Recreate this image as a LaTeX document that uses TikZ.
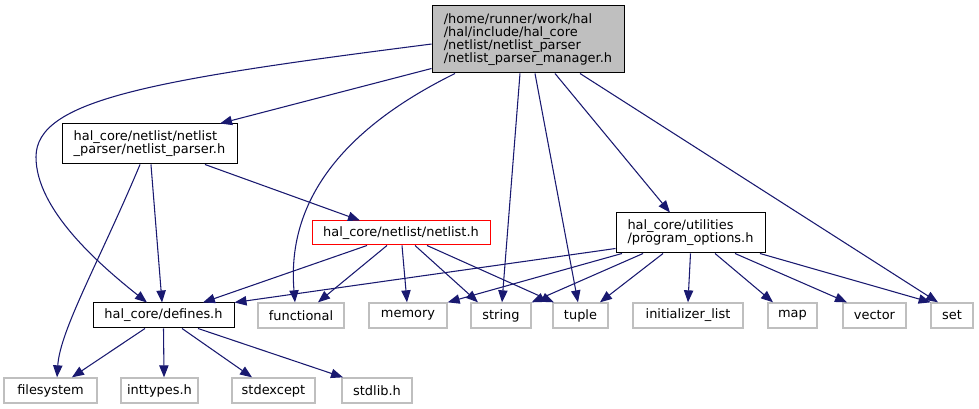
\documentclass[tikz,border=0pt]{standalone}
\usepackage{fontspec}
\setmainfont{DejaVu Sans}
\usetikzlibrary{arrows.meta}
\definecolor{edgeblue}{HTML}{191970}
\definecolor{boxgray}{HTML}{BFBFBF}
\tikzset{
  file/.style={draw=black, line width=0.75pt, inner sep=0pt, align=left,
    font=\fontsize{9.7}{9.75}\selectfont, minimum height=18.75pt},
  sysfile/.style={file, draw=boxgray, line width=1pt},
  incl/.style={draw=edgeblue, line width=0.8pt, -{Triangle[length=9pt,width=7pt]}},
}
\begin{document}
\begin{tikzpicture}[x=0.75pt, y=-0.75pt]
	\useasboundingbox (0,0) rectangle (979,409);
	% header nodes
	\node[file, fill=boxgray, minimum width=144pt, minimum height=50.25pt] (mgr) at (528,39.5) {/home/runner/work/hal\\/hal/include/hal\_core\\/netlist/netlist\_parser\\/netlist\_parser\_manager.h};
	\node[file, minimum width=131.25pt, minimum height=30pt] (parser) at (149.5,144) {hal\_core/netlist/netlist\\\_parser/netlist\_parser.h};
	\node[file, draw=red, minimum width=133.5pt, minimum height=18pt] (netlist) at (401,233) {hal\_core/netlist/netlist.h};
	\node[file, minimum width=111.75pt, minimum height=30pt] (progopt) at (690.5,233) {hal\_core/utilities\\/program\_options.h};
	\node[file, minimum width=105.75pt] (defines) at (163.5,315.5) {hal\_core/defines.h};
	% system headers
	\node[sysfile, minimum width=64.5pt] (functional) at (301,315.5) {functional};
	\node[sysfile, minimum width=58.5pt] (memory) at (408,315.5) {memory};
	\node[sysfile, minimum width=45pt] (string) at (501,315.5) {string};
	\node[sysfile, minimum width=41.25pt] (tuple) at (580.5,315.5) {tuple};
	\node[sysfile, minimum width=82.5pt] (initlist) at (688,315.5) {initializer\_list};
	\node[sysfile, minimum width=36.75pt] (map) at (792.5,315.5) {map};
	\node[sysfile, minimum width=47.25pt] (vector) at (874.5,315.5) {vector};
	\node[sysfile, minimum width=31.5pt] (set) at (952,315.5) {set};
	\node[sysfile, minimum width=69.75pt] (filesystem) at (50.5,390.5) {filesystem};
	\node[sysfile, minimum width=57.75pt] (inttypes) at (159.5,390.5) {inttypes.h};
	\node[sysfile, minimum width=62.25pt] (stdexcept) at (273.5,390.5) {stdexcept};
	\node[sysfile, minimum width=52.5pt] (stdlib) at (377,390.5) {stdlib.h};
	% includes of the manager
	\draw[incl] ([yshift=-3.4pt]mgr.west) .. controls (150,80) and (36,100) .. (36,157) .. controls (36,210) and (100,265) .. ([xshift=-12.4pt]defines.north);
	\draw[incl] ([yshift=3.75pt]mgr.south west) -- ([xshift=52.9pt]parser.north);
	\draw[incl] ([xshift=-54.75pt]mgr.south) .. controls (320,140) and (288,220) .. ([xshift=-4.5pt]functional.north);
	\draw[incl] ([xshift=-6pt]mgr.south) -- ([xshift=0.75pt]string.north);
	\draw[incl] ([xshift=5.25pt]mgr.south) -- ([xshift=-1.9pt]tuple.north);
	\draw[incl] ([xshift=20.25pt]mgr.south) -- ([xshift=-15.4pt]progopt.north);
	\draw[incl] ([xshift=39pt]mgr.south) -- ([xshift=-10.5pt]set.north);
	% includes of the parser
	\draw[incl] ([xshift=-7.1pt]parser.south) .. controls (100,260) and (60,330) .. ([xshift=4.9pt]filesystem.north);
	\draw[incl] ([xshift=1.1pt]parser.south) -- ([xshift=-1.1pt]defines.north);
	\draw[incl] ([xshift=41.6pt]parser.south) -- ([xshift=-30.75pt]netlist.north);
	% includes of the netlist
	\draw[incl] ([xshift=-25.5pt]netlist.south) -- ([xshift=29.6pt]defines.north);
	\draw[incl] ([xshift=-10.5pt]netlist.south) -- ([xshift=12.75pt]functional.north);
	\draw[incl] ([xshift=0.75pt]netlist.south) -- ([xshift=-0.75pt]memory.north);
	\draw[incl] ([xshift=10.5pt]netlist.south) -- ([xshift=-17.25pt]string.north);
	\draw[incl] ([xshift=19.5pt]netlist.south) -- ([xshift=-20pt]tuple.north);
	% includes of the program options
	\draw[incl] ([yshift=3.75pt]progopt.south west) -- (defines.north east);
	\draw[incl] ([xshift=-51.4pt]progopt.south) -- (memory.north east);
	\draw[incl] ([xshift=-35.6pt]progopt.south) -- (string.north east);
	\draw[incl] ([xshift=-20.6pt]progopt.south) -- ([xshift=14.6pt]tuple.north);
	\draw[incl] (progopt.south) -- (initlist.north);
	\draw[incl] ([xshift=18.4pt]progopt.south) -- ([xshift=-14.6pt]map.north);
	\draw[incl] ([xshift=33.4pt]progopt.south) -- ([xshift=-20.6pt]vector.north);
	\draw[incl] ([xshift=52.1pt]progopt.south) -- ([xshift=-16pt]set.north);
	% includes of the defines
	\draw[incl] ([xshift=-13.9pt]defines.south) -- ([xshift=16.1pt]filesystem.north);
	\draw[incl] (defines.south) -- ([xshift=3.4pt]inttypes.north);
	\draw[incl] ([xshift=13.9pt]defines.south) -- ([xshift=-16.1pt]stdexcept.north);
	\draw[incl] ([xshift=25.9pt]defines.south) -- ([xshift=-25.5pt]stdlib.north);
\end{tikzpicture}
\end{document}
